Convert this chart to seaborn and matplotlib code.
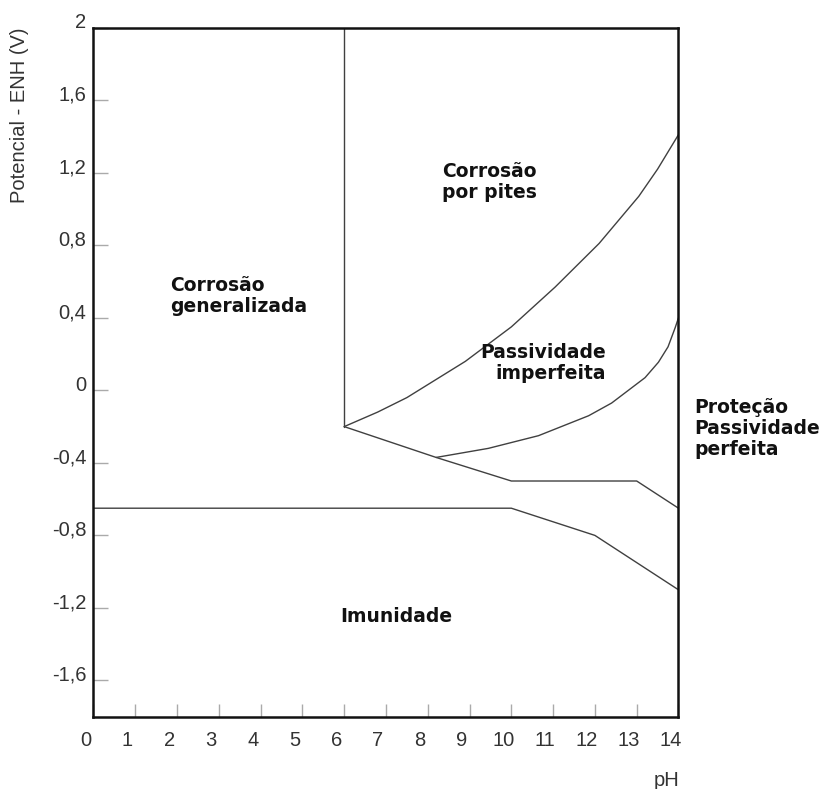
import matplotlib.pyplot as plt
import matplotlib.transforms as mtransforms
import seaborn as sns

# boundary lines (pH, potential in V vs ENH)
vert_ph = [6, 6]
vert_e = [2.0, -0.2]

upper_ph = [6.0, 6.8, 7.5, 8.2, 8.9, 10.0, 11.05, 12.1, 13.05, 13.5, 14.0]
upper_e = [-0.2, -0.12, -0.04, 0.06, 0.16, 0.35, 0.57, 0.81, 1.07, 1.22, 1.41]

lower_ph = [8.2, 9.45, 10.65, 11.85, 12.4, 12.8, 13.2, 13.52, 13.75, 13.92, 14.0]
lower_e = [-0.37, -0.32, -0.25, -0.14, -0.07, 0.0, 0.07, 0.155, 0.24, 0.345, 0.4]

step_ph = [6, 8.2, 10, 13, 14]
step_e = [-0.2, -0.37, -0.5, -0.5, -0.65]

immun_ph = [0, 10, 12, 14]
immun_e = [-0.65, -0.65, -0.8, -1.1]

x_ticks = list(range(0, 15))
y_ticks = [2, 1.6, 1.2, 0.8, 0.4, 0, -0.4, -0.8, -1.2, -1.6]
y_labels = ["2", "1,6", "1,2", "0,8", "0,4", "0", "-0,4", "-0,8", "-1,2", "-1,6"]

# region names
regions = ["Corrosão\ngeneralizada", "Corrosão\npor pites", "Passividade\nimperfeita",
           "Imunidade", "Proteção\nPassividade\nperfeita"]
region_ph = [1.83, 8.34, 12.26, 7.24, 14.38]
region_e = [0.52, 1.15, 0.15, -1.25, -0.21]
region_ha = ["left", "left", "right", "center", "left"]

sns.set_style("white")
plt.rcParams["font.family"] = ["Liberation Sans", "DejaVu Sans"]

fig = plt.figure(figsize=(8.23, 7.89), dpi=100)
ax = fig.add_axes([0.1136, 0.0916, 0.7108, 0.8733])

line_kw = dict(ax=ax, color="#404040", linewidth=1.0, sort=False, estimator=None)
sns.lineplot(x=vert_ph, y=vert_e, **line_kw)
sns.lineplot(x=upper_ph, y=upper_e, **line_kw)
sns.lineplot(x=lower_ph, y=lower_e, **line_kw)
sns.lineplot(x=step_ph, y=step_e, **line_kw)
sns.lineplot(x=immun_ph, y=immun_e, **line_kw)

ax.set_xlim(0, 14)
ax.set_ylim(-1.8, 2)
ax.set_xticks(x_ticks)
ax.set_xticklabels([str(t) for t in x_ticks])
ax.set_yticks(y_ticks)
ax.set_yticklabels(y_labels)
ax.set_xlabel("")
ax.set_ylabel("")

ax.tick_params(axis="x", bottom=True, direction="in", length=9.5, width=1, color="#aaaaaa",
               pad=10.5, labelsize=14.5, labelcolor="#333333")
ax.tick_params(axis="y", left=True, direction="in", length=11, width=1, color="#aaaaaa",
               pad=5, labelsize=14.5, labelcolor="#333333")

# labels in the original sit a little off their ticks
dx = mtransforms.ScaledTranslation(-8 / 100, 0, fig.dpi_scale_trans)
for lab in ax.get_xticklabels():
    lab.set_transform(lab.get_transform() + dx)
dy = mtransforms.ScaledTranslation(0, 7 / 100, fig.dpi_scale_trans)
for lab in ax.get_yticklabels():
    lab.set_transform(lab.get_transform() + dy)

for s in ax.spines.values():
    s.set_visible(True)
    s.set_color("#111111")
    s.set_linewidth(1.8)

for txt, x, y, ha in zip(regions, region_ph, region_e, region_ha):
    ax.text(x, y, txt, ha=ha, va="center", multialignment=ha,
            fontsize=13.5, fontweight="bold", family="DejaVu Sans", color="#111111",
            linespacing=1.15, clip_on=False)

fig.text(0.0243, 0.854, "Potencial - ENH (V)", rotation=90, ha="center", va="center",
         fontsize=14.5, color="#333333")
fig.text(0.8104, 0.0114, "pH", ha="center", va="center", fontsize=14.5, color="#333333")

fig.savefig("out.png", dpi=100)
